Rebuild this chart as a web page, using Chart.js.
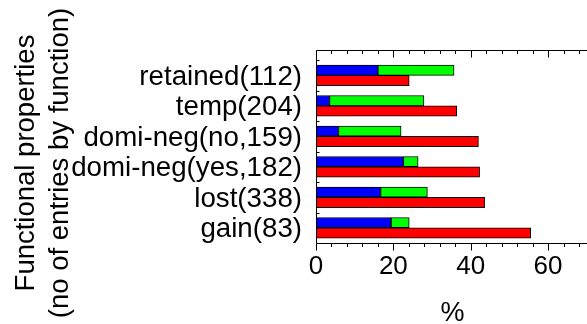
<!DOCTYPE html>
<html><head><meta charset="utf-8">
<script src="https://cdn.jsdelivr.net/npm/chart.js@4/dist/chart.umd.min.js"></script>
<style>html,body{margin:0;padding:0;background:#fff;overflow:hidden;} canvas{display:block;}</style>
</head><body>
<canvas id="c" width="587" height="324"></canvas>
<script>
// Categories (bottom to top) and their positions on the index axis
const categories = ['gain(83)', 'lost(338)', 'domi-neg(yes,182)', 'domi-neg(no,159)', 'temp(204)', 'retained(112)'];
const positions = [1, 2, 3, 4, 5, 6];
// Upper bar: blue segment + green segment (stacked), lower bar: red
const blueValues  = [19.4, 16.7, 22.6, 5.8, 3.5, 16.0];
const greenValues = [4.7, 12.1, 3.8, 16.2, 24.4, 19.7];
const redValues   = [55.5, 43.6, 42.3, 42.0, 36.4, 24.1];
const xTicks = [0, 4, 8, 12, 16, 20, 24, 28, 32, 36, 40, 44, 48, 52, 56, 60, 64, 68];
const xLabelTicks = [0, 20, 40, 60];
const yBoundaries = [1.5, 2.5, 3.5, 4.5, 5.5, 6.5];
const yTitleLines = ['Functional properties', '(no of entries by function)'];
const xTitle = '%';

const FONT = "'Liberation Sans', Arial, Helvetica, sans-serif";

function pts(vals) { return vals.map((v, i) => ({ x: v, y: positions[i] })); }

const framePlugin = {
  id: 'frame',
  afterDatasetsDraw(chart) {
    const { ctx, chartArea: a, scales: { x, y } } = chart;
    ctx.save();
    ctx.strokeStyle = '#000';
    ctx.lineWidth = 1;
    const L = Math.round(a.left) + 0.5, T = Math.round(a.top) + 0.5, B = Math.round(a.bottom) + 0.5, R = chart.width;
    ctx.beginPath();
    ctx.moveTo(R, T); ctx.lineTo(L, T); ctx.lineTo(L, B); ctx.lineTo(R, B);
    xTicks.forEach(v => {
      const px = Math.round(x.getPixelForValue(v)) + 0.5;
      const len = xLabelTicks.includes(v) ? 7 : 3.5;
      ctx.moveTo(px, B); ctx.lineTo(px, B + len);
      ctx.moveTo(px, T); ctx.lineTo(px, T + len);
    });
    yBoundaries.forEach(v => {
      const py = Math.round(y.getPixelForValue(v)) + 0.5;
      ctx.moveTo(L, py); ctx.lineTo(L + 3, py);
    });
    ctx.stroke();
    ctx.restore();
  },
  afterDraw(chart) {
    const { ctx, chartArea: a } = chart;
    ctx.save();
    ctx.fillStyle = '#000';
    ctx.font = '27.5px ' + FONT;
    ctx.textAlign = 'center';
    ctx.textBaseline = 'alphabetic';
    ctx.translate(0, 163);
    ctx.rotate(-Math.PI / 2);
    ctx.fillText(yTitleLines[0], 0, 33.5);
    ctx.fillText(yTitleLines[1], 0, 67.5);
    ctx.restore();
    ctx.save();
    ctx.fillStyle = '#000';
    ctx.font = '27px ' + FONT;
    ctx.textAlign = 'center';
    ctx.textBaseline = 'alphabetic';
    ctx.fillText(xTitle, (a.left + chart.width) / 2 + 1, 321);
    ctx.restore();
  }
};

new Chart(document.getElementById('c'), {
  type: 'bar',
  data: {
    datasets: [
      { label: 'blue', data: pts(blueValues), backgroundColor: '#0000ff', borderColor: '#000', borderWidth: 1, borderSkipped: false, stack: 'top' },
      { label: 'green', data: pts(greenValues), backgroundColor: '#00ff00', borderColor: '#000', borderWidth: 1, borderSkipped: false, stack: 'top' },
      { label: 'red', data: pts(redValues), backgroundColor: '#ff0000', borderColor: '#000', borderWidth: 1, borderSkipped: false, stack: 'bottom' }
    ]
  },
  options: {
    indexAxis: 'y',
    responsive: false,
    animation: false,
    devicePixelRatio: 1,
    datasets: { bar: { barThickness: 10.3, grouped: true } },
    layout: { padding: { top: 50, left: 0, right: 0, bottom: 0 } },
    plugins: { legend: { display: false }, tooltip: { enabled: false }, title: { display: false } },
    scales: {
      x: {
        type: 'linear', position: 'bottom', min: 0, max: 68.5, stacked: true, offset: false,
        grid: { display: false, drawTicks: false },
        border: { display: false },
        afterBuildTicks(s) { s.ticks = xTicks.map(v => ({ value: v })); },
        afterFit(s) { s.height = 81; },
        ticks: {
          autoSkip: false, maxRotation: 0, padding: 8, color: '#000',
          font: { family: FONT, size: 26 },
          callback: v => xLabelTicks.includes(v) ? String(v) : ''
        }
      },
      y: {
        type: 'linear', position: 'left', min: 0.5, max: 6.83, offset: false,
        grid: { display: false, drawTicks: false },
        border: { display: false },
        afterBuildTicks(s) { s.ticks = positions.map(v => ({ value: v })); },
        afterFit(s) { s.width = 316; },
        ticks: {
          autoSkip: false, padding: 14, labelOffset: 2, color: '#000',
          font: { family: FONT, size: 27.7 },
          callback: v => categories[positions.indexOf(v)] || ''
        }
      }
    }
  },
  plugins: [framePlugin]
});
</script>
</body></html>
